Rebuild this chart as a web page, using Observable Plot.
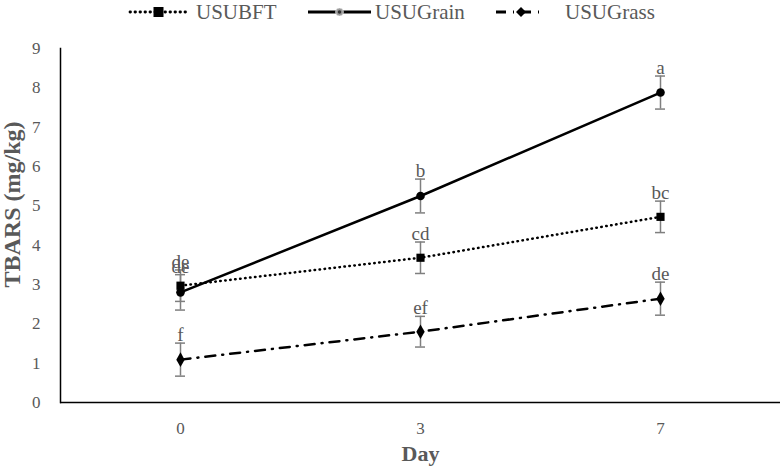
<!DOCTYPE html>
<html><head><meta charset="utf-8">
<script src="https://cdn.jsdelivr.net/npm/d3@7"></script>
<script src="https://cdn.jsdelivr.net/npm/@observablehq/plot@0.6"></script>
<style>
body{margin:0;background:#fff;font-family:"Liberation Serif",serif;}
#legend{position:relative;width:784px;height:28px;}
#legend svg{position:absolute;left:0;top:0;}
</style></head><body>
<div id="legend"></div>
<div id="chart"></div>
<script>
const days = ["0","3","7"];
const seriesNames = ["USUBFT","USUGrain","USUGrass"];
const bftValues = [2.97, 3.68, 4.72];
const bftErrors = [0.40, 0.40, 0.40];
const bftLetters = ["de","cd","bc"];
const grainValues = [2.80, 5.25, 7.88];
const grainErrors = [0.45, 0.43, 0.42];
const grainLetters = ["de","b","a"];
const grassValues = [1.09, 1.80, 2.64];
const grassErrors = [0.42, 0.39, 0.42];
const grassLetters = ["f","ef","de"];
const yTicks = [0,1,2,3,4,5,6,7,8,9];

const seriesData = [
  [seriesNames[0], bftValues, bftErrors, bftLetters],
  [seriesNames[1], grainValues, grainErrors, grainLetters],
  [seriesNames[2], grassValues, grassErrors, grassLetters]
];
const rows = [];
for (const [name, vals, errs, lets] of seriesData) {
  days.forEach((d, i) => rows.push({series: name, day: d, value: vals[i], lo: vals[i] - errs[i], hi: vals[i] + errs[i], letter: lets[i]}));
}
const bySeries = name => rows.filter(r => r.series === name);
const gray = "#595959";
const barGray = "#7f7f7f";

const chart = Plot.plot({
  width: 784, height: 445,
  marginLeft: 60, marginRight: 4, marginTop: 20, marginBottom: 71,
  style: {fontFamily: "Liberation Serif, serif", fontSize: "17px", color: gray, background: "#fff"},
  x: {type: "point", domain: days, padding: 0.5},
  y: {domain: [0, 9]},
  marks: [
    Plot.axisY({ticks: yTicks, tickSize: 0, tickPadding: 20, label: null, fill: gray, fontSize: 17}),
    Plot.axisX({tickSize: 0, tickPadding: 19, label: null, fill: gray, fontSize: 17}),
    Plot.frame({anchor: "left", stroke: "#000", strokeWidth: 1.5}),
    Plot.ruleY([0], {stroke: "#000", strokeWidth: 1.5}),
    Plot.text(["TBARS (mg/kg)"], {text: d => d, frameAnchor: "left", textAnchor: "middle", dx: -48, dy: -21, rotate: -90, fontSize: 24, fontWeight: "bold", fill: gray}),
    Plot.text(["Day"], {text: d => d, frameAnchor: "bottom", dy: 58, fontSize: 22, fontWeight: "bold", fill: gray}),
    // error bars
    Plot.ruleX(rows, {x: "day", y1: "lo", y2: "hi", stroke: barGray, strokeWidth: 1.5}),
    Plot.ruleY(rows, {y: "lo", x1: "day", x2: "day", insetLeft: -5, insetRight: -5, stroke: barGray, strokeWidth: 1.5}),
    Plot.ruleY(rows, {y: "hi", x1: "day", x2: "day", insetLeft: -5, insetRight: -5, stroke: barGray, strokeWidth: 1.5}),
    // lines
    Plot.line(bySeries(seriesNames[0]), {x: "day", y: "value", stroke: "#000", strokeWidth: 2.5, strokeDasharray: "0.5,4.5", strokeLinecap: "round"}),
    Plot.line(bySeries(seriesNames[1]), {x: "day", y: "value", stroke: "#000", strokeWidth: 2.5}),
    Plot.line(bySeries(seriesNames[2]), {x: "day", y: "value", stroke: "#000", strokeWidth: 2.5, strokeDasharray: "10,7,1,7"}),
    // markers
    Plot.dot(bySeries(seriesNames[0]), {x: "day", y: "value", symbol: "square", r: 4.6, fill: "#000"}),
    Plot.dot(bySeries(seriesNames[1]), {x: "day", y: "value", symbol: "circle", r: 4.3, fill: "#000"}),
    Plot.dot(bySeries(seriesNames[2]), {x: "day", y: "value", symbol: "diamond", r: 4.4, fill: "#000"}),
    // letters
    Plot.text(rows, {x: "day", y: "hi", text: "letter", dy: -8, fill: gray, fontSize: 19})
  ]
});
document.getElementById("chart").appendChild(chart);

// legend
const leg = d3.select("#legend").append("svg").attr("width", 784).attr("height", 28)
  .style("font-family", "Liberation Serif, serif");
const ly = 12;
const items = [
  {name: seriesNames[0], x1: 130, x2: 187, tx: 196, dash: "0.5,4.5", cap: "round", sym: "square"},
  {name: seriesNames[1], x1: 308, x2: 371, tx: 375, dash: null, cap: "butt", sym: "circle"},
  {name: seriesNames[2], x1: 496, x2: 546, tx: 565, dash: "10,7,1,7", cap: "butt", sym: "diamond"}
];
for (const it of items) {
  const l = leg.append("line").attr("x1", it.x1).attr("x2", it.x2).attr("y1", ly).attr("y2", ly)
    .attr("stroke", "#000").attr("stroke-width", 2.8).attr("stroke-linecap", it.cap);
  if (it.dash) l.attr("stroke-dasharray", it.dash);
  const cx = (it.x1 + it.x2) / 2;
  if (it.sym === "square") leg.append("rect").attr("x", cx - 5).attr("y", ly - 5).attr("width", 10).attr("height", 10).attr("fill", "#000");
  if (it.sym === "circle") leg.append("circle").attr("cx", cx).attr("cy", ly).attr("r", 4).attr("fill", "#9a9a9a").attr("stroke", "#fff").attr("stroke-width", 0.5);
  if (it.sym === "circle") leg.append("circle").attr("cx", cx).attr("cy", ly).attr("r", 1.8).attr("fill", "#333");
  if (it.sym === "diamond") leg.append("path").attr("d", `M${cx},${ly-5}L${cx+5},${ly}L${cx},${ly+5}L${cx-5},${ly}Z`).attr("fill", "#000");
  leg.append("text").attr("x", it.tx).attr("y", ly).attr("dy", "0.35em").attr("fill", gray)
    .attr("font-size", 21).text(it.name);
}
</script>
</body></html>
